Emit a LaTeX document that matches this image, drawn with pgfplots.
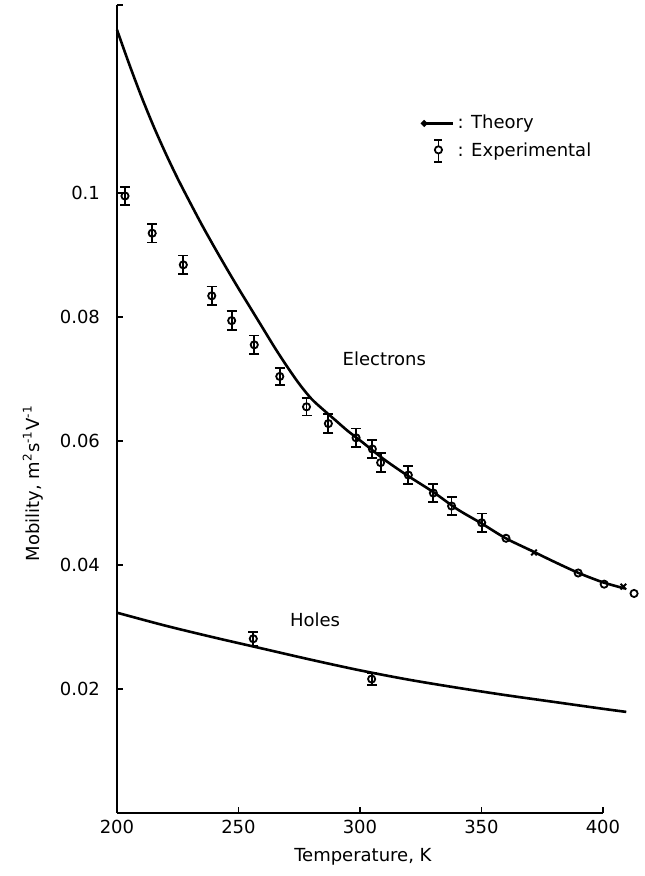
\documentclass[border=0pt]{standalone}
\usepackage{pgfplots}
\pgfplotsset{compat=1.18}
\usepackage{pgfplotstable}
\usepackage{fontspec}
\setmainfont{DejaVu Sans}
\pgfplotstableread{
T mu
200 0.1263
205 0.1208
210 0.1156
215 0.1108
220 0.1064
225 0.1023
230 0.0985
235 0.0948
240 0.0913
245 0.0879
250 0.0846
255 0.0814
260 0.0782
265 0.0750
270 0.0720
275 0.0692
280 0.0668
285 0.0650
290 0.0633
295 0.0616
300 0.0601
310 0.0570
320 0.0543
330 0.0518
340 0.0490
350 0.0467
360 0.0443
370 0.0424
380 0.0405
390 0.0387
400 0.0372
409 0.0362
}\elth
\pgfplotstableread{
T mu e
203.3 0.0995 0.0014
214.5 0.0935 0.0015
227.3 0.0884 0.0015
239.0 0.0834 0.0015
247.2 0.0794 0.0015
256.5 0.0755 0.0015
267.0 0.0704 0.0014
278.0 0.0655 0.0014
287.0 0.0628 0.0015
298.4 0.0605 0.0015
305.1 0.0587 0.0015
308.5 0.0565 0.0015
319.9 0.0545 0.0015
330.2 0.0516 0.0015
337.7 0.0495 0.0014
350.1 0.0468 0.0015
}\elexp
\pgfplotstableread{
T mu
360.1 0.0443
389.8 0.0387
400.5 0.0369
412.8 0.0354
}\elcirc
\pgfplotstableread{
T mu
371.6 0.0420
408.4 0.0365
}\elcross
\pgfplotstableread{
T mu
200 0.0323
220 0.0302
240 0.0283
260 0.0265
280 0.0247
300 0.0230
320 0.0215
340 0.0202
360 0.0190
380 0.0179
400 0.0168
409.6 0.0163
}\hoth
\pgfplotstableread{
T mu e
256.1 0.0281 0.0011
304.8 0.0216 0.0010
}\hoexp
\begin{document}
\begin{tikzpicture}
\begin{axis}[
  scale only axis, width=243pt, height=404pt,
  xmin=200, xmax=400, ymin=0, ymax=0.1303,
  axis x line*=bottom, axis y line*=left,
  axis line style={line width=1pt, -},
  clip=false,
  xtick={200,250,300,350,400},
  xticklabels={200,250,300,350,400},
  ytick={0.02,0.04,0.06,0.08,0.1},
  yticklabels={0.02,0.04,0.06,0.08,0.1},
  extra y ticks={0.1303}, extra y tick labels={},
  tick align=inside, major tick length=3pt,
  tick style={line width=0.8pt, black},
  tick label style={font=\fontsize{9}{11}\selectfont},
  yticklabel style={xshift=-5pt},
  legend style={draw=none, fill=none, at={(rel axis cs:0.625,0.868)}, anchor=north west,
    font=\fontsize{9}{11}\selectfont, row sep=2pt, inner sep=0pt, nodes={inner sep=1.5pt}},
  legend cell align=left,
]
\addplot[line width=1.3pt, black, smooth, no marks,
  legend image code/.code={\draw[line width=1.3pt] (0cm,0cm) -- (0.51cm,0cm);
    \fill (0cm,0cm) circle (0.9pt);}]
  table[x=T, y=mu] {\elth};
\addlegendentry{: Theory}
\addplot[only marks, black, mark=o, mark size=1.8pt, mark options={line width=0.9pt, fill=white},
  legend image code/.code={
    \draw[line width=0.9pt] (0.25cm,-0.2cm) -- (0.25cm,0.2cm);
    \draw[line width=0.9pt] (0.18cm,0.2cm) -- (0.32cm,0.2cm);
    \draw[line width=0.9pt] (0.18cm,-0.2cm) -- (0.32cm,-0.2cm);
    \draw[line width=0.9pt, fill=white] (0.25cm,0.02cm) circle (1.8pt);},
  error bars/.cd, y dir=both, y explicit,
  error bar style={line width=0.9pt},
  error mark options={line width=0.9pt, mark size=2.5pt, rotate=90}]
  table[x=T, y=mu, y error=e] {\elexp};
\addlegendentry{: Experimental}
\addplot[line width=1.3pt, black, smooth, no marks, forget plot] table[x=T, y=mu] {\hoth};
\addplot[only marks, black, mark=o, mark size=1.8pt, mark options={line width=0.9pt, fill=white}, forget plot,
  error bars/.cd, y dir=both, y explicit,
  error bar style={line width=0.9pt},
  error mark options={line width=0.9pt, mark size=2.5pt, rotate=90}]
  table[x=T, y=mu, y error=e] {\hoexp};
\addplot[only marks, black, mark=o, mark size=1.8pt, mark options={line width=0.9pt, fill=white}, forget plot]
  table[x=T, y=mu] {\elcirc};
\addplot[only marks, black, mark=x, mark size=2pt, mark options={line width=0.9pt}, forget plot]
  table[x=T, y=mu] {\elcross};
\node[font=\fontsize{9}{11}\selectfont] at (axis cs:310,0.0732) {Electrons};
\node[font=\fontsize{9}{11}\selectfont] at (axis cs:281.5,0.0312) {Holes};
\node[font=\fontsize{9}{11}\selectfont, rotate=90] at (rel axis cs:-0.173,0.408) {Mobility, m\textsuperscript{2}s\textsuperscript{-1}V\textsuperscript{-1}};
\node[font=\fontsize{9}{11}\selectfont] at (rel axis cs:0.506,-0.0545) {Temperature, K};
\coordinate (bbll) at (rel axis cs:-0.2407,-0.078);
\coordinate (bbur) at (rel axis cs:1.0864,1.0062);
\end{axis}
\pgfresetboundingbox
\path (bbll) rectangle (bbur);
\end{tikzpicture}
\end{document}
